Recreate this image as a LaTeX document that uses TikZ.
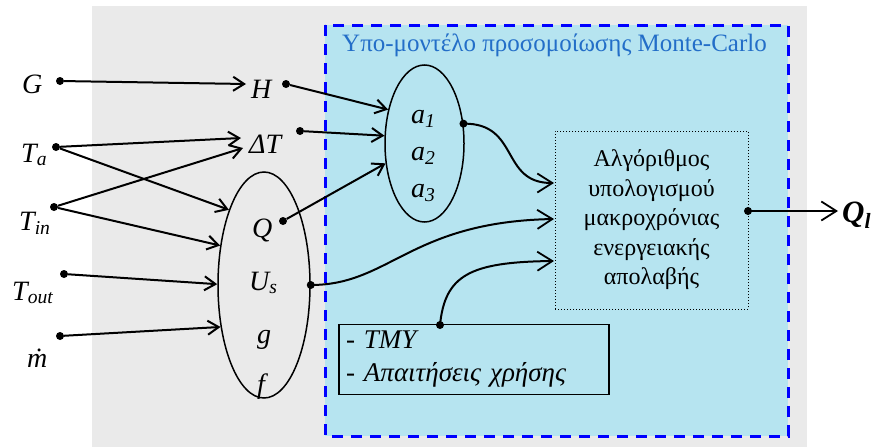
\documentclass[tikz,border=0pt]{standalone}
\usepackage{fontspec}
\setmainfont{Liberation Serif}
\usetikzlibrary{shapes.geometric,arrows.meta}
\definecolor{bggray}{RGB}{234,234,234}
\definecolor{mccyan}{RGB}{182,228,240}
\definecolor{mcblue}{RGB}{0,0,255}
\definecolor{titleblue}{RGB}{35,110,200}
\tikzset{
  lbl/.style={anchor=base west,inner sep=0pt,font=\fontsize{28}{30}\selectfont\itshape},
  albl/.style={anchor=base west,inner sep=0pt,font=\fontsize{28}{30}\selectfont\itshape},
  dot/.style={circle,fill=black,inner sep=0pt,minimum size=8pt},
  ell/.style={ellipse,draw=black,line width=1.5pt,inner sep=0pt},
  arrS/.style={line width=2pt,-{Straight Barb[length=11pt,width=14pt,line width=2pt]}},
  arrB/.style={line width=2pt,-{Straight Barb[length=15pt,width=19pt,line width=1.8pt]}},
  algbox/.style={draw=black,dotted,line width=1pt,minimum width=193pt,minimum height=178pt,align=center,inner sep=0pt,font=\fontsize{24}{29.5}\selectfont},
  tmybox/.style={draw=black,line width=1.5pt,minimum width=270pt,minimum height=69pt,text width=256pt,align=left,inner sep=7pt,font=\fontsize{27}{33}\selectfont\itshape},
  mcframe/.style={draw=mcblue,fill=mccyan,line width=3pt,dash pattern=on 11pt off 8pt}
}
\begin{document}
\begin{tikzpicture}[x=1pt,y=-1pt]
\useasboundingbox (0,0) rectangle (875,447);
% backgrounds
\fill[bggray] (92,6) rectangle (807,447);
\draw[mcframe] (325,25) rectangle (788,436);
\node[anchor=base west,inner sep=0pt,text=titleblue,font=\fontsize{25}{26}\selectfont] (ttl) at (342,51) {Υπο-μοντέλο προσομοίωσης Monte-Carlo};
% input labels
\node[lbl] (lG) at (22,93) {G};
\node[lbl] (lTa) at (21,162) {T\textsubscript{a}};
\node[lbl] (lTin) at (19,230) {T\textsubscript{in}};
\node[lbl] (lTout) at (12,300) {T\textsubscript{out}};
\node[lbl] (lm) at (27,367) {\.{m}};
\node[lbl] (lH) at (251,98) {H};
\node[lbl] (lDT) at (249,153) {ΔT};
% ellipses
\node[ell,minimum width=92pt,minimum height=226pt] (e1) at (264,285) {};
\node[lbl] (lQ) at (252,237) {Q};
\node[lbl] (lUs) at (249,290) {U\textsubscript{s}};
\node[lbl] (lg) at (257,343) {g};
\node[lbl] (lf) at (257,393) {f};
\node[ell,minimum width=79pt,minimum height=157pt] (e2) at (424.5,143.5) {};
\node[albl] (la1) at (411,123) {a\textsubscript{1}};
\node[albl] (la2) at (411,160) {a\textsubscript{2}};
\node[albl] (la3) at (411,197) {a\textsubscript{3}};
% boxes
\node[algbox] (alg) at (651.5,220) {Αλγόριθμος\\υπολογισμού\\μακροχρόνιας\\ενεργειακής\\απολαβής};
\node[tmybox] (tmy) at (474,359.5) {- TMY\\- Απαιτήσεις χρήσης};
\node[anchor=base west,inner sep=0pt,font=\fontsize{31}{32}\selectfont\bfseries\itshape] (lQl) at (842,222) {Q\textsubscript{l}};
% ports
\coordinate (pH) at (246,84);
\coordinate (pDT1) at (241,138);
\coordinate (pDT2) at (243,148);
\coordinate (in1) at (554,183);
\coordinate (in2) at (554,219);
\coordinate (in3) at (554,261);
\coordinate (outp) at (838,211);
% dots
\node[dot] (Gd) at (60,81) {};
\node[dot] (Tad) at (56,147) {};
\node[dot] (Tind) at (54,207) {};
\node[dot] (Toutd) at (64,274) {};
\node[dot] (md) at (60,336) {};
\node[dot] (Hd) at (286,84) {};
\node[dot] (DTd) at (300,131) {};
\node[dot] (Qd) at (283,221) {};
\node[dot] (a1d) at (e2.27) {};
\node[dot] (Usd) at (e1.east) {};
\node[dot] (tmyd) at (440,325) {};
\node[dot] (algd) at (748,211) {};
% connectors
\draw[arrS] (Gd) -- (pH);
\draw[arrS] (Tad) -- (pDT1);
\draw[arrS] (Tad) -- (e1.115);
\draw[arrS] (Tind) -- (pDT2);
\draw[arrS] (Tind) -- (e1.138);
\draw[arrS] (Toutd) -- (e1.179);
\draw[arrS] (md) -- (e1.224);
\draw[arrS] (Hd) -- (e2.137);
\draw[arrS] (DTd) -- (e2.169);
\draw[arrS] (Qd) -- (e2.207);
\draw[arrB] (a1d.center) .. controls (520,123) and (500,183) .. (in1);
\draw[arrB] (Usd.center) .. controls (390,285) and (410,222) .. (in2);
\draw[arrB] (tmyd.center) .. controls (445,275) and (470,262) .. (in3);
\draw[arrB] (algd.center) -- (outp);
\end{tikzpicture}
\end{document}
